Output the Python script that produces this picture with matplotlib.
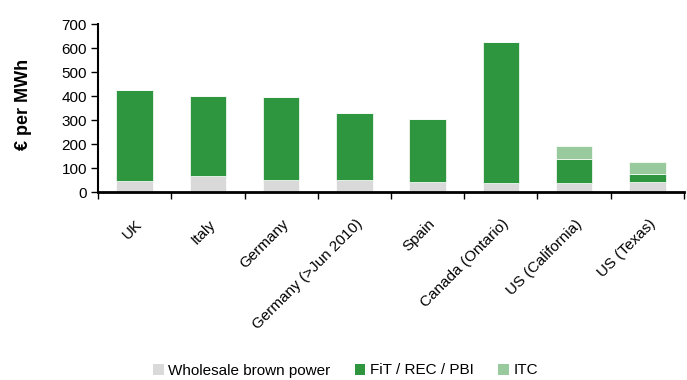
import matplotlib
matplotlib.use("Agg")
import matplotlib.pyplot as plt
from matplotlib.patches import Patch
import numpy as np

plt.rcParams["font.family"] = ["Liberation Sans", "DejaVu Sans"]

# Support components, EUR per MWh
markets = ["UK", "Italy", "Germany", "Germany (>Jun 2010)", "Spain",
           "Canada (Ontario)", "US (California)", "US (Texas)"]
wholesale = [45, 68, 49, 49, 43, 36, 38, 40]
fit_rec_pbi = [380, 333, 346, 281, 261, 587, 101, 36]
itc = [0, 0, 0, 0, 0, 0, 51, 49]

series_names = ["Wholesale brown power", "FiT / REC / PBI", "ITC"]
colors = ["#d9d9d9", "#2e963e", "#98ca9e"]

fig = plt.figure(figsize=(6.87, 3.8), dpi=100)
ax = fig.add_axes([0.1427, 0.4947, 0.8529, 0.4421])

x = np.arange(len(markets)) + 0.5
bottom = np.zeros(len(markets))
for vals, col in zip([wholesale, fit_rec_pbi, itc], colors):
    vals = np.array(vals, dtype=float)
    ax.bar(x, vals, width=0.5, bottom=bottom, color=col,
           edgecolor="white", linewidth=0.5, zorder=2)
    bottom += vals

ax.set_xlim(0, len(markets))
ax.set_ylim(0, 700)
ax.set_yticks(np.arange(0, 701, 100))
ax.tick_params(axis="y", direction="out", length=5, width=1, labelsize=11,
               pad=3)

# category boundaries carry the tick marks, labels sit at bar centres
ax.set_xticks(np.arange(0, len(markets) + 1))
ax.set_xticklabels([])
ax.tick_params(axis="x", which="major", direction="out", length=5, width=1)
ax.set_xticks(x + 0.01, minor=True)
ax.set_xticklabels(markets, minor=True, rotation=45, ha="right",
                   rotation_mode="anchor", fontsize=11)
ax.tick_params(axis="x", which="minor", length=0, pad=18)

for side in ["top", "right"]:
    ax.spines[side].set_visible(False)
ax.spines["bottom"].set_linewidth(2)
ax.spines["left"].set_linewidth(1.5)

ax.set_ylabel("€ per MWh", fontsize=13, fontweight="bold")
ax.yaxis.set_label_coords(-0.113, 0.52)

handles = [Patch(facecolor=c, edgecolor="none") for c in colors]
fig.legend(handles, series_names, loc="center", bbox_to_anchor=(0.503, 0.025),
           ncol=3, frameon=False, fontsize=11, handlelength=0.7,
           handleheight=0.7, handletextpad=0.3, columnspacing=1.6,
           borderpad=0)

fig.savefig("out.png", dpi=100)
